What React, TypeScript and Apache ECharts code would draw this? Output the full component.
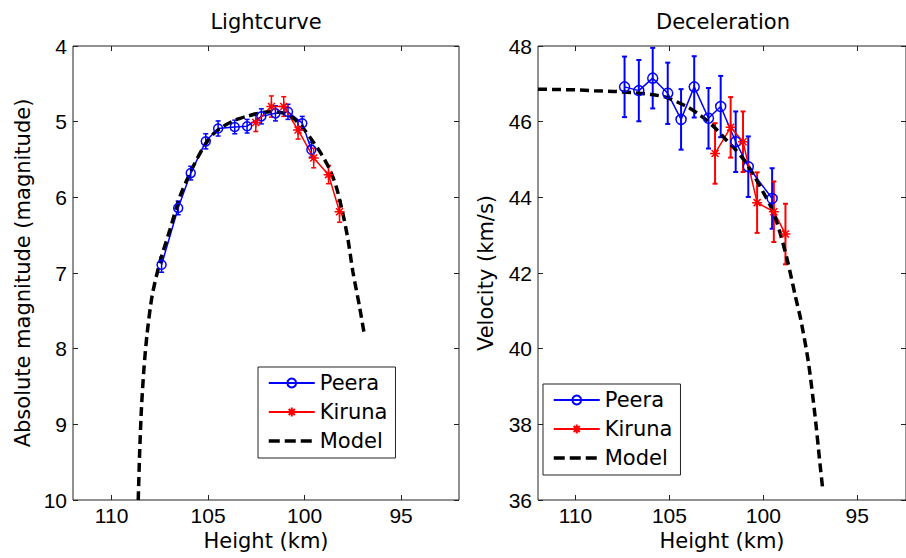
import React, { useEffect, useRef } from "react";
import * as echarts from "echarts";

// ---------- Lightcurve (left) ----------
const peeraLcHeight = [107.41, 106.55, 105.9, 105.12, 104.48, 103.62, 102.98, 102.24, 101.51, 100.86, 100.12, 99.65];
const peeraLcMag = [6.89, 6.14, 5.68, 5.26, 5.09, 5.07, 5.06, 4.93, 4.89, 4.87, 5.02, 5.37];
const peeraLcErr = [0.1, 0.09, 0.09, 0.1, 0.1, 0.09, 0.09, 0.1, 0.1, 0.1, 0.09, 0.1];

const kirunaLcHeight = [102.53, 101.72, 101.08, 100.34, 99.53, 98.76, 98.19];
const kirunaLcMag = [5.01, 4.8, 4.8, 5.11, 5.48, 5.7, 6.19];
const kirunaLcErr = [0.12, 0.14, 0.13, 0.12, 0.13, 0.12, 0.14];

const modelLcHeight = [108.62, 108.55, 108.45, 108.32, 108.16, 107.9, 107.5, 106.98, 106.46, 105.9, 105.27, 104.76, 104.2, 103.6, 103.0, 102.4, 101.8, 101.2, 100.6, 100.1, 99.74, 99.2, 98.7, 98.36, 98.03, 97.75, 97.5, 97.15, 96.9];
const modelLcMag = [10.0, 9.4, 8.77, 8.25, 7.8, 7.3, 6.86, 6.43, 5.99, 5.66, 5.35, 5.17, 5.06, 4.98, 4.93, 4.89, 4.87, 4.88, 4.95, 5.08, 5.2, 5.4, 5.63, 5.86, 6.2, 6.56, 6.98, 7.45, 7.82];

// ---------- Deceleration (right) ----------
const peeraVHeight = [107.39, 106.63, 105.89, 105.09, 104.38, 103.68, 102.92, 102.27, 101.47, 100.8, 99.53];
const peeraV = [46.92, 46.82, 47.15, 46.75, 46.06, 46.92, 46.09, 46.4, 45.47, 44.81, 43.97];
const peeraVErr = [0.8, 0.81, 0.8, 0.81, 0.8, 0.81, 0.8, 0.81, 0.8, 0.8, 0.8];

const kirunaVHeight = [102.57, 101.74, 101.08, 100.33, 99.44, 98.82];
const kirunaV = [45.16, 45.85, 45.47, 43.86, 43.62, 43.03];
const kirunaVErr = [0.8, 0.8, 0.8, 0.8, 0.8, 0.8];

const modelVHeight = [112.0, 111.0, 110.0, 109.0, 108.0, 107.0, 106.0, 105.2, 104.5, 104.0, 103.5, 103.0, 102.5, 102.0, 101.5, 101.0, 100.5, 100.0, 99.5, 99.1, 98.7, 98.3, 98.0, 97.6, 97.25, 97.0, 96.85];
const modelV = [46.86, 46.85, 46.84, 46.82, 46.8, 46.77, 46.72, 46.65, 46.5, 46.38, 46.22, 46.03, 45.8, 45.53, 45.27, 44.97, 44.58, 44.13, 43.65, 43.05, 42.3, 41.4, 40.76, 39.65, 38.25, 37.05, 36.35];

const heightTicks = [95, 100, 105, 110];
const legendNames = ["Peera", "Kiruna", "Model"];

const BLUE = "#0000ff";
const RED = "#ff0000";
const AXIS = "#222222";
const WORD_FONT = "'DejaVu Sans', sans-serif";
const NUM_FONT = "'Liberation Sans', Arial, sans-serif";
const STAR = "path://M5,0L5,10M0,5L10,5M1.5,1.5L8.5,8.5M1.5,8.5L8.5,1.5";

const zip2 = (a: number[], b: number[]) => a.map((v, i) => [v, b[i]]);
const zip3 = (a: number[], b: number[], c: number[]) => a.map((v, i) => [v, b[i], c[i]]);

const errRender = (capHalf: number, color: string, lw: number) => (params: any, api: any) => {
  const x = api.value(0);
  const y = api.value(1);
  const e = api.value(2);
  const p1 = api.coord([x, y - e]);
  const p2 = api.coord([x, y + e]);
  const style = { stroke: color, lineWidth: lw };
  return {
    type: "group",
    children: [
      { type: "line", shape: { x1: p1[0], y1: p1[1], x2: p2[0], y2: p2[1] }, style },
      { type: "line", shape: { x1: p1[0] - capHalf, y1: p1[1], x2: p1[0] + capHalf, y2: p1[1] }, style },
      { type: "line", shape: { x1: p2[0] - capHalf, y1: p2[1], x2: p2[0] + capHalf, y2: p2[1] }, style },
    ],
  };
};

const xAxisFor = (gridIndex: number, min: number, bottom: boolean) => ({
  type: "value",
  gridIndex,
  position: bottom ? "bottom" : "top",
  inverse: true,
  min,
  max: 112,
  name: bottom ? "Height (km)" : "",
  nameLocation: "middle",
  nameGap: 30,
  nameTextStyle: { fontSize: 21, fontFamily: WORD_FONT, color: "#000" },
  splitLine: { show: false },
  axisLine: { show: false },
  axisTick: { show: true, inside: true, length: 5, customValues: heightTicks, lineStyle: { color: AXIS } },
  axisLabel: {
    show: bottom,
    customValues: heightTicks,
    margin: 5,
    fontSize: 21,
    fontFamily: NUM_FONT,
    color: "#000",
  },
});

const yAxisFor = (gridIndex: number, min: number, max: number, interval: number, inverse: boolean, name: string, nameGap: number, left: boolean) => ({
  type: "value",
  gridIndex,
  position: left ? "left" : "right",
  inverse,
  min,
  max,
  interval,
  name: left ? name : "",
  nameLocation: "middle",
  nameRotate: 90,
  nameGap,
  nameTextStyle: { fontSize: 21, fontFamily: WORD_FONT, color: "#000" },
  splitLine: { show: false },
  axisLine: { show: false },
  axisTick: { show: true, inside: true, length: 5, lineStyle: { color: AXIS } },
  axisLabel: { show: left, margin: 6, fontSize: 21, fontFamily: NUM_FONT, color: "#000" },
});

const legendFor = (left: number, top: number) => ({
  data: [
    { name: legendNames[0] },
    { name: legendNames[1] },
    { name: legendNames[2], itemStyle: { opacity: 0 }, lineStyle: { width: 3.5, type: [11, 5] } },
  ],
  orient: "vertical",
  left,
  top,
  padding: [5, 8, 6, 9],
  itemGap: 7,
  itemWidth: 46,
  itemHeight: 11,
  borderColor: AXIS,
  borderWidth: 1,
  backgroundColor: "#ffffff",
  selectedMode: false,
  textStyle: { fontSize: 21, fontFamily: WORD_FONT, color: "#000", lineHeight: 22 },
});

const seriesFor = (
  xi: number,
  yi: number,
  pH: number[], pY: number[], pE: number[],
  kH: number[], kY: number[], kE: number[],
  mH: number[], mY: number[],
  cap: number, errW: number, circle: number
) => [
  {
    type: "custom",
    name: "Peera error",
    xAxisIndex: xi,
    yAxisIndex: yi,
    renderItem: errRender(cap, BLUE, errW),
    data: zip3(pH, pY, pE),
    encode: { x: 0, y: 1 },
    clip: true,
    silent: true,
  },
  {
    type: "custom",
    name: "Kiruna error",
    xAxisIndex: xi,
    yAxisIndex: yi,
    renderItem: errRender(cap, RED, errW),
    data: zip3(kH, kY, kE),
    encode: { x: 0, y: 1 },
    clip: true,
    silent: true,
  },
  {
    type: "line",
    name: "Peera",
    xAxisIndex: xi,
    yAxisIndex: yi,
    data: zip2(pH, pY),
    symbol: "circle",
    symbolSize: circle,
    showAllSymbol: true,
    itemStyle: { color: "rgba(0,0,0,0)", borderColor: BLUE, borderWidth: 1.5 },
    lineStyle: { color: BLUE, width: 1.5 },
  },
  {
    type: "line",
    name: "Kiruna",
    xAxisIndex: xi,
    yAxisIndex: yi,
    data: zip2(kH, kY),
    symbol: STAR,
    symbolSize: 10,
    showAllSymbol: true,
    itemStyle: { color: "rgba(0,0,0,0)", borderColor: RED, borderWidth: 1.5 },
    lineStyle: { color: RED, width: 1.5 },
  },
  {
    type: "line",
    name: "Model",
    xAxisIndex: xi,
    yAxisIndex: yi,
    data: zip2(mH, mY),
    symbol: "none",
    smooth: 0.25,
    itemStyle: { color: "#000" },
    lineStyle: { color: "#000", width: 3.5, type: [9, 5] },
    clip: true,
  },
];

export default function App() {
  const ref = useRef<HTMLDivElement>(null);
  useEffect(() => {
    if (!ref.current) return;
    const chart = echarts.init(ref.current, undefined, { renderer: "svg" });
    const option: any = {
      animation: false,
      backgroundColor: "#ffffff",
      textStyle: { fontFamily: WORD_FONT },
      grid: [
        { left: 73, top: 46, width: 386, height: 454, show: true, borderColor: AXIS, borderWidth: 1, backgroundColor: "#fff" },
        { left: 538, top: 46, width: 370, height: 454, show: true, borderColor: AXIS, borderWidth: 1, backgroundColor: "#fff" },
      ],
      xAxis: [
        xAxisFor(0, 92, true),
        xAxisFor(0, 92, false),
        xAxisFor(1, 92.4, true),
        xAxisFor(1, 92.4, false),
      ],
      yAxis: [
        yAxisFor(0, 4, 10, 1, true, "Absolute magnitude (magnitude)", 40, true),
        yAxisFor(0, 4, 10, 1, true, "", 40, false),
        yAxisFor(1, 36, 48, 2, false, "Velocity (km/s)", 42, true),
        yAxisFor(1, 36, 48, 2, false, "", 42, false),
      ],
      legend: [legendFor(258, 367), legendFor(543, 384)],
      graphic: [
        {
          type: "text",
          x: 266,
          y: 22,
          style: { text: "Lightcurve", align: "center", verticalAlign: "middle", fontSize: 21, fontFamily: WORD_FONT, fill: "#000" },
        },
        {
          type: "text",
          x: 723,
          y: 22,
          style: { text: "Deceleration", align: "center", verticalAlign: "middle", fontSize: 21, fontFamily: WORD_FONT, fill: "#000" },
        },
      ],
      series: [
        ...seriesFor(0, 0, peeraLcHeight, peeraLcMag, peeraLcErr, kirunaLcHeight, kirunaLcMag, kirunaLcErr, modelLcHeight, modelLcMag, 2.5, 1.5, 9),
        ...seriesFor(2, 2, peeraVHeight, peeraV, peeraVErr, kirunaVHeight, kirunaV, kirunaVErr, modelVHeight, modelV, 2.5, 2, 10),
      ],
    };
    chart.setOption(option);
    return () => chart.dispose();
  }, []);
  return <div ref={ref} style={{ position: "fixed", left: 0, top: 0, width: 906, height: 558 }} />;
}
